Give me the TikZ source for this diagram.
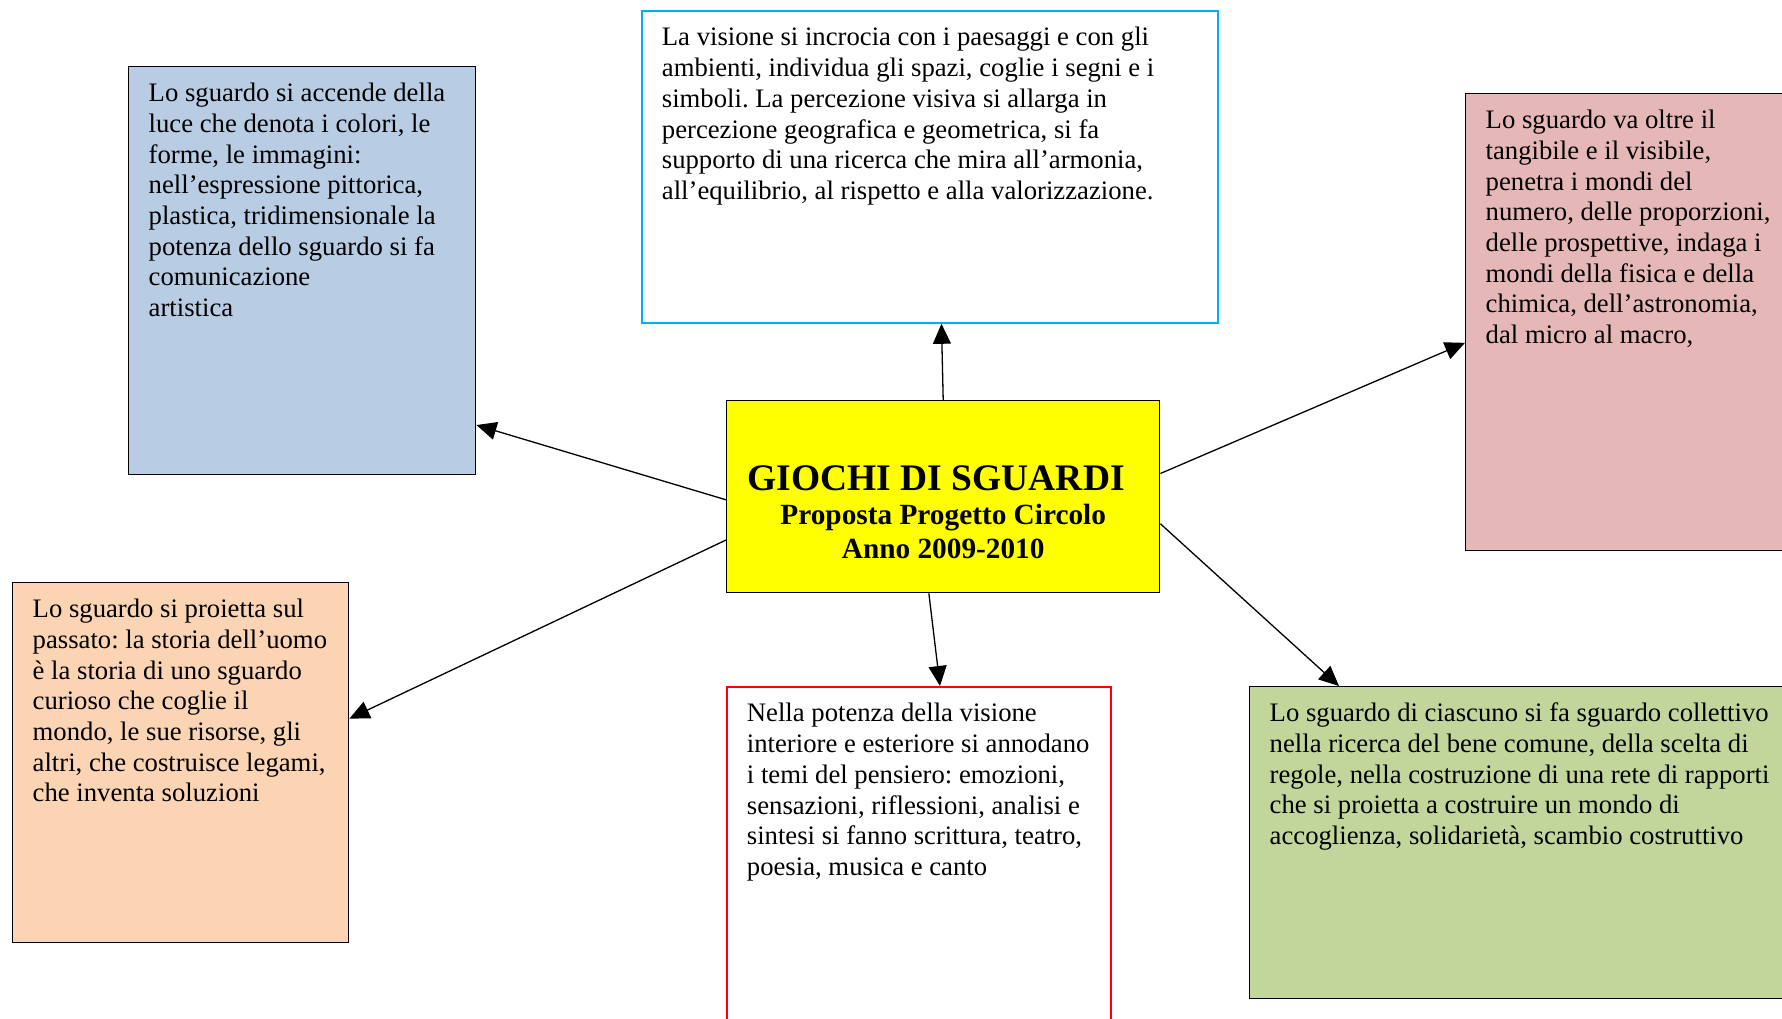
\documentclass[tikz,border=0pt]{standalone}
\usepackage{fontspec}
\setmainfont{Liberation Serif}
\usepackage{xcolor}
\usepackage{tikz}
\usetikzlibrary{arrows.meta, calc}

\definecolor{cblue}{HTML}{B8CCE4}
\definecolor{cpink}{HTML}{E5B8B7}
\definecolor{corange}{HTML}{FBD4B4}
\definecolor{cgreen}{HTML}{C2D69B}
\definecolor{ccyan}{HTML}{00B0F0}
\definecolor{cred}{HTML}{FF0000}
\definecolor{cyellow}{HTML}{FFFF00}

\frenchspacing
% text block: width, height, lines
\newcommand{\boxtext}[3]{\begin{minipage}[t][#2][t]{#1}\raggedright\rule{0pt}{35pt}#3\end{minipage}}

\begin{document}
\begin{tikzpicture}[x=1pt, y=-1pt,
  box/.style={draw, line width=1.4pt, inner sep=0pt, inner xsep=20pt, anchor=north west,
    font=\fontsize{26.7}{30.7}\selectfont},
  arr/.style={-{Triangle[length=20pt, width=18pt]}, line width=1.3pt}
]
\useasboundingbox (0,0) rectangle (1782,1018);
\clip (0,0) rectangle (1782,1018);

\node[box, fill=cyellow, inner xsep=0pt] (cen) at (726,400) {\begin{minipage}[t][192pt][t]{433pt}\centering\bfseries
  \rule{0pt}{90pt}{\fontsize{37.5}{42}\selectfont GIOCHI DI SGUARDI\rule{14pt}{0pt}}\\
  {\fontsize{29.3}{34}\selectfont Proposta Progetto Circolo\\ Anno 2009-2010\par}\end{minipage}};

\node[box, draw=ccyan, line width=1.8pt] (vis) at (641,10) {\boxtext{536pt}{312pt}{La visione si incrocia con i paesaggi e con gli\\
  ambienti, individua gli spazi, coglie i segni e i\\
  simboli. La percezione visiva si allarga in\\
  percezione geografica e geometrica, si fa\\
  supporto di una ricerca che mira all’armonia,\\
  all’equilibrio, al rispetto e alla valorizzazione.}};

\node[box, fill=cblue] (luce) at (128,66) {\boxtext{307pt}{408pt}{Lo sguardo si accende della\\
  luce che denota i colori, le\\
  forme, le immagini:\\
  nell’espressione pittorica,\\
  plastica, tridimensionale la\\
  potenza dello sguardo si fa\\
  comunicazione\\
  artistica}};

\node[box, fill=cpink] (oltre) at (1465,93) {\boxtext{320pt}{457pt}{Lo sguardo va oltre il\\
  tangibile e il visibile,\\
  penetra i mondi del\\
  numero, delle proporzioni,\\
  delle prospettive, indaga i\\
  mondi della fisica e della\\
  chimica, dell’astronomia,\\
  dal micro al macro,}};

\node[box, fill=corange] (pass) at (12,582) {\boxtext{296pt}{360pt}{Lo sguardo si proietta sul\\
  passato: la storia dell’uomo\\
  è la storia di uno sguardo\\
  curioso che coglie il\\
  mondo, le sue risorse, gli\\
  altri, che costruisce legami,\\
  che inventa soluzioni}};

\node[box, draw=cred, line width=1.8pt] (pot) at (726,686) {\boxtext{344pt}{360pt}{Nella potenza della visione\\
  interiore e esteriore si annodano\\
  i temi del pensiero: emozioni,\\
  sensazioni, riflessioni, analisi e\\
  sintesi si fanno scrittura, teatro,\\
  poesia, musica e canto}};

\node[box, fill=cgreen] (coll) at (1249,686) {\boxtext{520pt}{312pt}{Lo sguardo di ciascuno si fa sguardo collettivo\\
  nella ricerca del bene comune, della scelta di\\
  regole, nella costruzione di una rete di rapporti\\
  che si proietta a costruire un mondo di\\
  accoglienza, solidarietà, scambio costruttivo}};

\draw[arr] (cen.north) -- ($(vis.south west)!0.52!(vis.south east)$);
\draw[arr] ($(cen.north west)!0.516!(cen.south west)$) -- ($(luce.north east)!0.877!(luce.south east)$);
\draw[arr] ($(cen.north west)!0.724!(cen.south west)$) -- ($(pass.north east)!0.378!(pass.south east)$);
\draw[arr] ($(cen.north east)!0.38!(cen.south east)$) -- ($(oltre.north west)!0.545!(oltre.south west)$);
\draw[arr] ($(cen.north east)!0.64!(cen.south east)$) -- ($(coll.north west)+(90,0)$);
\draw[arr] ($(cen.south west)!0.467!(cen.south east)$) -- ($(pot.north west)+(214,0)$);
\end{tikzpicture}
\end{document}
